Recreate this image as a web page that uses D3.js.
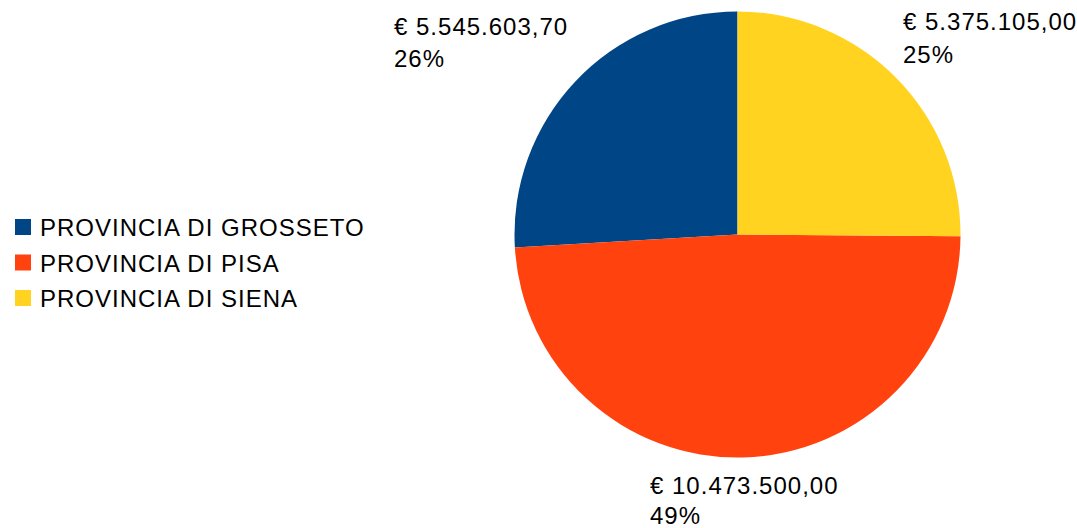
<!DOCTYPE html>
<html>
<head>
<meta charset="utf-8">
<script src="https://cdn.jsdelivr.net/npm/d3@7"></script>
<style>
  body { margin: 0; background: #fff; }
  svg text { font-family: "Liberation Sans", Arial, sans-serif; fill: #000; }
</style>
</head>
<body>
<div id="chart"></div>
<script>
const categories = ["PROVINCIA DI GROSSETO", "PROVINCIA DI PISA", "PROVINCIA DI SIENA"];
const values = [5545603.70, 10473500.00, 5375105.00];
const valueLabels = ["€ 5.545.603,70", "€ 10.473.500,00", "€ 5.375.105,00"];
const percentLabels = ["26%", "49%", "25%"];
const colors = ["#004586", "#ff420e", "#ffd320"];

const width = 1077, height = 528;
const cx = 737.5, cy = 234.5, radius = 223;

const svg = d3.select("#chart")
    .append("svg")
    .attr("width", width)
    .attr("height", height);

const data = categories.map((c, i) => ({ name: c, value: values[i], i }));

// LibreOffice draws slices counter-clockwise from 12 o'clock
const pie = d3.pie()
    .value(d => d.value)
    .sort(null)
    .startAngle(0)
    .endAngle(-2 * Math.PI);

const arc = d3.arc().innerRadius(0).outerRadius(radius);

const g = svg.append("g").attr("transform", `translate(${cx},${cy})`);

const arcs = pie(data);

g.selectAll("path")
    .data(arcs)
    .enter()
    .append("path")
    .attr("d", arc)
    .attr("fill", d => colors[d.data.i]);

// posizione delle etichette (baseline prima riga)
const labelPos = [
    { x: 394, y: 35, lh: 32 },
    { x: 650, y: 494, lh: 30 },
    { x: 903, y: 30, lh: 33 }
];

const labels = svg.selectAll("text.slice-label")
    .data(arcs)
    .enter()
    .append("text")
    .attr("class", "slice-label")
    .style("font-size", "24px")
    .style("letter-spacing", "1px");

labels.append("tspan")
    .attr("x", d => labelPos[d.data.i].x)
    .attr("y", d => labelPos[d.data.i].y)
    .text(d => valueLabels[d.data.i]);

labels.append("tspan")
    .attr("x", d => labelPos[d.data.i].x)
    .attr("y", d => labelPos[d.data.i].y + labelPos[d.data.i].lh)
    .text(d => percentLabels[d.data.i]);

// Legenda
const legend = svg.selectAll("g.legend")
    .data(data)
    .enter()
    .append("g")
    .attr("class", "legend")
    .attr("transform", (d, i) => `translate(15, ${219 + i * 35.5})`);

legend.append("rect")
    .attr("width", 16)
    .attr("height", 16)
    .attr("fill", d => colors[d.i]);

legend.append("text")
    .attr("x", 25)
    .attr("y", 17)
    .style("font-size", "24px")
    .style("letter-spacing", "1px")
    .text(d => d.name);
</script>
</body>
</html>
